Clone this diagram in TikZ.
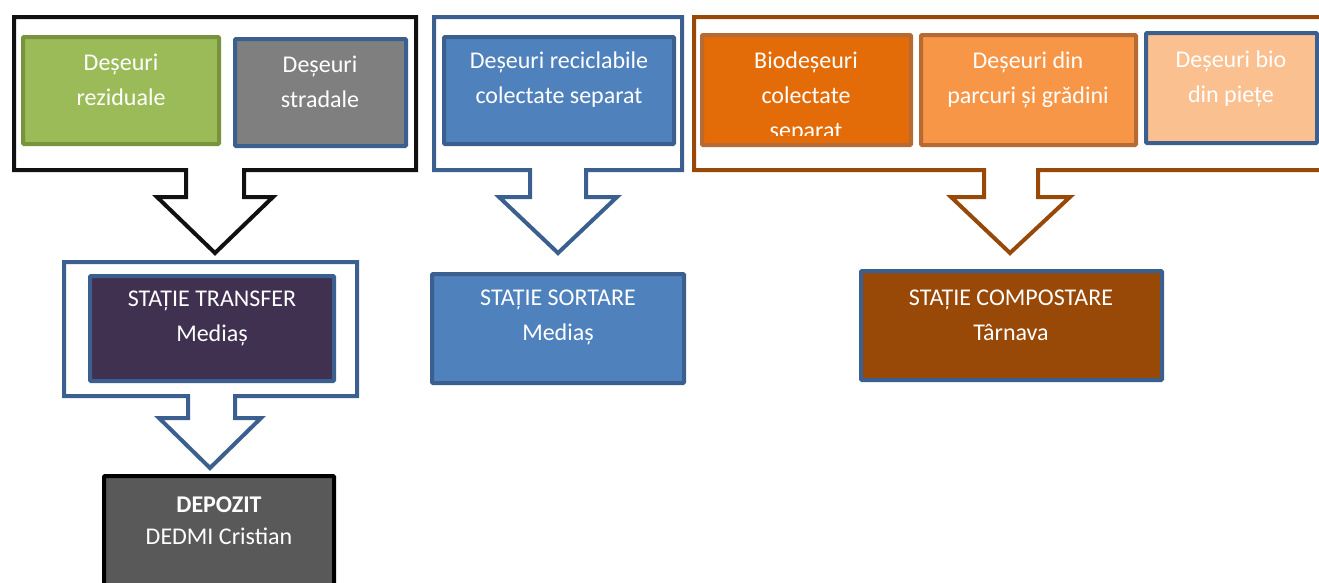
\documentclass[tikz,border=0pt]{standalone}
\usepackage{fontspec}
\setmainfont{Carlito}
\definecolor{frameblack}{HTML}{111111}
\definecolor{bluebd}{HTML}{3B5F8F}
\definecolor{bluefill}{HTML}{4F81BD}
\definecolor{greenfill}{HTML}{9BBB59}
\definecolor{greenbd}{HTML}{77933C}
\definecolor{grayfill}{HTML}{7F7F7F}
\definecolor{brown}{HTML}{984807}
\definecolor{orangebd}{HTML}{B66A34}
\definecolor{orange1}{HTML}{E36C09}
\definecolor{orange2}{HTML}{F79646}
\definecolor{orange3}{HTML}{FAC090}
\definecolor{purplefill}{HTML}{403151}
\definecolor{darkgray}{HTML}{595959}
\begin{document}
\begin{tikzpicture}[x=1pt,y=-1pt,
  box/.style={draw, line width=4pt, rounded corners=1pt, inner sep=0pt},
  lbl/.style={text=white, font=\fontsize{24}{35}\selectfont, align=center, anchor=center, inner sep=0pt},
  callout/.style={line width=4pt, fill=white, line join=miter, rounded corners=0pt}]
\useasboundingbox (0,0) rectangle (1319,582);
\clip (0,0) rectangle (1319,582);
% callout frames
\draw[callout, draw=frameblack] (14,17) -- (416,17) -- (416,170) -- (244,170) -- (244,197) -- (273,197) -- (215,253) -- (157,197) -- (186,197) -- (186,170) -- (14,170) -- cycle;
\draw[callout, draw=bluebd] (434,17) -- (682,17) -- (682,170) -- (586,170) -- (586,197) -- (617,197) -- (558,253) -- (499,197) -- (530,197) -- (530,170) -- (434,170) -- cycle;
\draw[callout, draw=brown] (694,17) -- (1345,17) -- (1345,170) -- (1038,170) -- (1038,197) -- (1070,197) -- (1010,253) -- (951,197) -- (984,197) -- (984,170) -- (694,170) -- cycle;
\draw[callout, draw=bluebd] (64,262) -- (357,262) -- (357,396) -- (235,396) -- (235,418) -- (261,418) -- (210,468) -- (159,418) -- (188,418) -- (188,396) -- (64,396) -- cycle;
% boxes
\node[box, fill=greenfill, draw=greenbd, minimum width=196pt, minimum height=107pt] (rez) at (121,90.5) {};
\node[box, fill=grayfill, draw=bluebd, minimum width=171pt, minimum height=107pt] (strad) at (320.5,92.5) {};
\node[box, fill=bluefill, draw=bluebd, minimum width=230pt, minimum height=107pt] (recic) at (559,90.5) {};
\node[box, fill=orange1, draw=orangebd, minimum width=209pt, minimum height=110pt] (bio) at (806.5,90) {};
\node[box, fill=orange2, draw=orangebd, minimum width=215pt, minimum height=110pt] (parc) at (1028.5,90) {};
\node[box, fill=orange3, draw=bluebd, minimum width=171pt, minimum height=110pt] (piete) at (1231.5,88) {};
\node[box, fill=purplefill, draw=bluebd, minimum width=244pt, minimum height=105pt] (transfer) at (212,328.5) {};
\node[box, fill=bluefill, draw=bluebd, minimum width=252pt, minimum height=109pt] (sortare) at (558,328.5) {};
\node[box, fill=brown, draw=bluebd, minimum width=301pt, minimum height=109pt] (compost) at (1011.5,325.5) {};
\node[box, fill=darkgray, draw=black, minimum width=230pt, minimum height=124pt] (depozit) at (219,538) {};
% labels
\node[lbl] (trez) at (121,79.5) {Deșeuri\\reziduale};
\node[lbl] (tstrad) at (320,82) {Deșeuri\\stradale};
\node[lbl] (trecic) at (559,79.5) {Deșeuri reciclabile\\colectate separat};
\begin{scope}
\clip (702,35) rectangle (911,135);
\node[lbl] (tbio) at (806,97) {Biodeșeuri\\colectate\\separat};
\end{scope}
\node[lbl] (tparc) at (1028,79.5) {Deșeuri din\\parcuri și grădini};
\node[lbl] (tpiete) at (1231,78.5) {Deșeuri bio\\din piețe};
\node[lbl] (ttransfer) at (212,318.5) {STAȚIE TRANSFER\\Mediaș};
\node[lbl] (tsortare) at (558,317) {STAȚIE SORTARE\\Mediaș};
\node[lbl] (tcompost) at (1011,315) {STAȚIE COMPOSTARE\\Târnava};
\node[lbl, font=\fontsize{24}{32}\selectfont] (tdepozit) at (219,521) {\textbf{DEPOZIT}\\DEDMI Cristian};
\end{tikzpicture}
\end{document}
